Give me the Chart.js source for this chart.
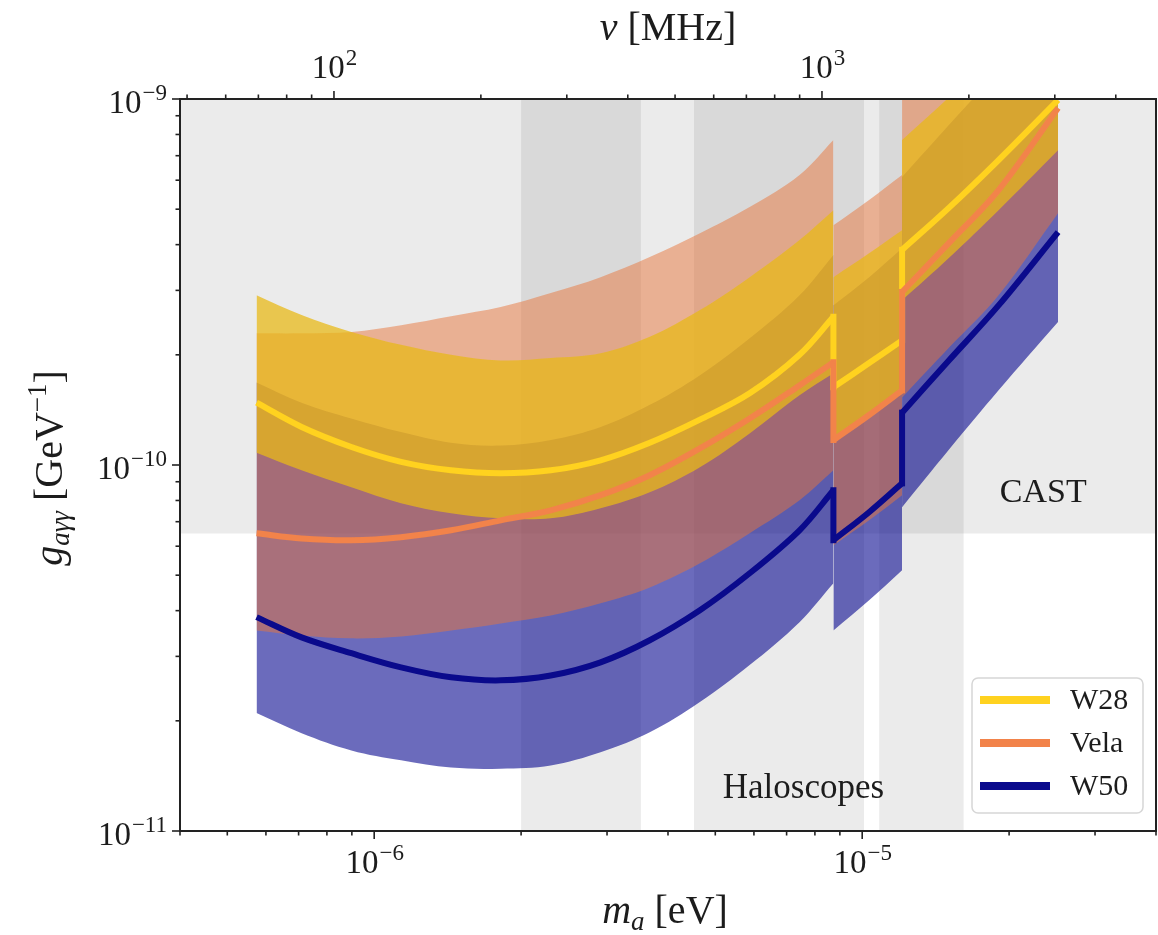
<!DOCTYPE html>
<html>
<head>
<meta charset="utf-8">
<script src="https://cdn.jsdelivr.net/npm/chart.js@4.4.1/dist/chart.umd.min.js"></script>
<style>
	body { margin: 0; background: #fff; }
	#wrap { width: 1158px; height: 935px; }
</style>
</head>
<body>
<div id="wrap"><canvas id="axionChart" width="1158" height="935"></canvas></div>
<script>
var SERIF = '"Liberation Serif", "DejaVu Serif", serif';
var INK = '#1c1c1c';

// axion mass [eV] along the three observed bands
var massA = [5.74e-7, 7.10e-7, 8.98e-7, 1.135e-6, 1.437e-6, 1.816e-6, 2.30e-6, 2.91e-6, 3.67e-6, 4.65e-6, 5.88e-6, 7.44e-6, 8.73e-6];
var massB = [8.73e-6, 1.033e-5, 1.207e-5];
var massC = [1.207e-5, 1.505e-5, 1.903e-5, 2.52e-5];

// g_agg [GeV^-1], values follow massA, then massB, then massC
var w28Line  = [1.48e-10, 1.27e-10, 1.12e-10, 1.02e-10, 9.67e-11, 9.49e-11, 9.67e-11, 1.03e-10, 1.15e-10, 1.33e-10, 1.57e-10, 2.00e-10, 2.54e-10,
                1.63e-10, 1.90e-10, 2.19e-10,
                3.87e-10, 5.04e-10, 6.81e-10, 9.94e-10];
var w28Upper = [2.91e-10, 2.57e-10, 2.31e-10, 2.13e-10, 2.00e-10, 1.93e-10, 1.96e-10, 2.02e-10, 2.24e-10, 2.65e-10, 3.26e-10, 4.12e-10, 4.97e-10,
                3.26e-10, 3.79e-10, 4.38e-10,
                7.73e-10, 1.01e-9, 1.36e-9, 1.99e-9];
var w28Lower = [1.08e-10, 9.67e-11, 8.69e-11, 7.86e-11, 7.38e-11, 7.15e-11, 7.15e-11, 7.62e-11, 8.42e-11, 9.86e-11, 1.22e-10, 1.55e-10, 1.78e-10,
                1.19e-10, 1.38e-10, 1.60e-10,
                2.82e-10, 3.68e-10, 4.97e-10, 7.25e-10];

var velaLine  = [6.51e-11, 6.30e-11, 6.23e-11, 6.35e-11, 6.63e-11, 7.06e-11, 7.52e-11, 8.27e-11, 9.38e-11, 1.11e-10, 1.34e-10, 1.65e-10, 1.91e-10,
                 1.17e-10, 1.37e-10, 1.60e-10,
                 2.97e-10, 4.04e-10, 5.64e-10, 9.45e-10];
var velaUpper = [2.29e-10, 2.29e-10, 2.31e-10, 2.41e-10, 2.55e-10, 2.70e-10, 2.95e-10, 3.26e-10, 3.70e-10, 4.30e-10, 5.07e-10, 6.20e-10, 7.73e-10,
                 4.52e-10, 5.30e-10, 6.20e-10,
                 1.15e-9, 1.56e-9, 2.18e-9, 3.66e-9];
var velaLower = [3.53e-11, 3.42e-11, 3.36e-11, 3.40e-11, 3.53e-11, 3.69e-11, 3.88e-11, 4.19e-11, 4.63e-11, 5.39e-11, 6.51e-11, 8.01e-11, 9.67e-11,
                 6.03e-11, 7.06e-11, 8.27e-11,
                 1.53e-10, 2.09e-10, 2.91e-10, 4.88e-10];

var w50Line  = [3.84e-11, 3.38e-11, 3.06e-11, 2.80e-11, 2.63e-11, 2.58e-11, 2.66e-11, 2.89e-11, 3.32e-11, 4.01e-11, 5.06e-11, 6.63e-11, 8.53e-11,
                6.23e-11, 7.43e-11, 8.91e-11,
                1.39e-10, 1.93e-10, 2.73e-10, 4.33e-10];
var w50Upper = [1.68e-10, 1.48e-10, 1.34e-10, 1.23e-10, 1.15e-10, 1.13e-10, 1.17e-10, 1.27e-10, 1.46e-10, 1.76e-10, 2.22e-10, 2.91e-10, 3.75e-10,
                2.73e-10, 3.26e-10, 3.91e-10,
                6.12e-10, 8.49e-10, 1.20e-9, 1.90e-9];
var w50Lower = [2.10e-11, 1.85e-11, 1.66e-11, 1.56e-11, 1.49e-11, 1.48e-11, 1.51e-11, 1.64e-11, 1.86e-11, 2.25e-11, 2.84e-11, 3.72e-11, 4.75e-11,
                3.53e-11, 4.27e-11, 5.16e-11,
                7.66e-11, 1.10e-10, 1.60e-10, 2.46e-10];

// excluded regions
var castLimit = 6.5e-11;
var haloFrom = [2.0e-6, 4.52e-6, 1.083e-5];
var haloTo   = [3.52e-6, 1.009e-5, 1.615e-5];

// axis ticks
var massMajorTicks = [1e-6, 1e-5];
var massMinorTicks = [4e-7, 5e-7, 6e-7, 7e-7, 8e-7, 9e-7, 2e-6, 3e-6, 4e-6, 5e-6, 6e-6, 7e-6, 8e-6, 9e-6, 2e-5, 3e-5, 4e-5];
var freqMajorTicks = [1e2, 1e3];
var freqMinorTicks = [50, 60, 70, 80, 90, 200, 300, 400, 500, 600, 700, 800, 900, 2000, 3000, 4000];
var gMajorTicks = [1e-11, 1e-10, 1e-9];
var gMinorTicks = [2e-11, 3e-11, 4e-11, 5e-11, 6e-11, 7e-11, 8e-11, 9e-11, 2e-10, 3e-10, 4e-10, 5e-10, 6e-10, 7e-10, 8e-10, 9e-10];

var MASS_MIN = 4e-7, MASS_MAX = 4e-5;
var MHZ_PER_EV = 1.209e8;   // nu = m / 2h
var SMOOTH = 0.35;

var SOURCES = [
	{ label: 'W28',  line: w28Line,  upper: w28Upper,  lower: w28Lower,  color: '#ffd21f', band: 'rgba(232,186,26,0.75)', bandOrder: 10, lineOrder: 3 },
	{ label: 'Vela', line: velaLine, upper: velaUpper, lower: velaLower, color: '#f2834a', band: 'rgba(232,118,60,0.5)',  bandOrder: 20, lineOrder: 2 },
	{ label: 'W50',  line: w50Line,  upper: w50Upper,  lower: w50Lower,  color: '#0a0a8c', band: 'rgba(0,0,139,0.58)',    bandOrder: 30, lineOrder: 1 }
];
var SEGMENTS = [massA, massB, massC];
var GREY = 'rgba(0,0,0,0.08)';

function toPoints(masses, values) {
	var pts = [];
	for (var i = 0; i < masses.length; i++) {
		pts.push({ x: masses[i], y: values[i] });
	}
	return pts;
}

function splitSeries(values) {
	var out = [];
	var start = 0;
	SEGMENTS.forEach(function(m) {
		out.push(toPoints(m, values.slice(start, start + m.length)));
		start += m.length;
	});
	return out;
}

var datasets = [];

function pushRegion(points, fill) {
	datasets.push({ data: points, borderWidth: 0, borderColor: 'transparent', pointRadius: 0,
		backgroundColor: GREY, fill: fill, order: 100 });
}

function pushBand(src) {
	var lo = splitSeries(src.lower);
	var hi = splitSeries(src.upper);
	for (var s = 0; s < lo.length; s++) {
		var idx = datasets.length;
		datasets.push({ data: lo[s], borderWidth: 0, borderColor: 'transparent', pointRadius: 0, fill: false,
			tension: SMOOTH, order: src.bandOrder });
		datasets.push({ data: hi[s], borderWidth: 0, borderColor: 'transparent', pointRadius: 0,
			tension: SMOOTH, backgroundColor: src.band, fill: { target: idx }, order: src.bandOrder });
	}
}

// smooth pieces per segment, plus the vertical steps between them
function pushLine(src) {
	var segs = splitSeries(src.line);
	segs.forEach(function(seg, s) {
		datasets.push({ label: src.label, data: seg, borderColor: src.color, borderWidth: 6, pointRadius: 0,
			fill: false, tension: SMOOTH, borderCapStyle: 'butt', order: src.lineOrder });
		if (s > 0) {
			var prev = segs[s - 1];
			datasets.push({ data: [prev[prev.length - 1], seg[0]], borderColor: src.color, borderWidth: 6, pointRadius: 0,
				fill: false, borderCapStyle: 'square', order: src.lineOrder });
		}
	});
}

pushRegion([{ x: MASS_MIN, y: castLimit }, { x: MASS_MAX, y: castLimit }], 'end');
haloFrom.forEach(function(lo, i) {
	pushRegion([{ x: lo, y: 1e-9 }, { x: haloTo[i], y: 1e-9 }], 'start');
});
SOURCES.forEach(pushBand);
SOURCES.forEach(pushLine);

function supText(exp) {
	return String(exp).replace('-', '\u2212');
}

function drawPower(ctx, exp, x, y, align) {
	var base = '10';
	var sup = supText(exp);
	ctx.font = '33px ' + SERIF;
	var wb = ctx.measureText(base).width;
	ctx.font = '23px ' + SERIF;
	var ws = ctx.measureText(sup).width;
	var left = x;
	if (align === 'center') left = x - (wb + ws) / 2;
	if (align === 'right') left = x - wb - ws;
	ctx.textAlign = 'left';
	ctx.textBaseline = 'alphabetic';
	ctx.font = '33px ' + SERIF;
	ctx.fillText(base, left, y);
	ctx.font = '23px ' + SERIF;
	ctx.fillText(sup, left + wb + 1, y - 13);
}

// parts: [text, font, dy]
function drawRich(ctx, parts, cx, baseline) {
	var total = 0;
	parts.forEach(function(p) {
		ctx.font = p[1];
		total += ctx.measureText(p[0]).width;
	});
	var x = cx - total / 2;
	ctx.textAlign = 'left';
	ctx.textBaseline = 'alphabetic';
	parts.forEach(function(p) {
		ctx.font = p[1];
		ctx.fillText(p[0], x, baseline + p[2]);
		x += ctx.measureText(p[0]).width;
	});
}

function tickMarks(ctx, scale, values, len, side, area) {
	values.forEach(function(v) {
		var p = scale.getPixelForValue(v);
		ctx.beginPath();
		if (side === 'bottom') { ctx.moveTo(p, area.bottom); ctx.lineTo(p, area.bottom + len); }
		if (side === 'top')    { ctx.moveTo(p, area.top);    ctx.lineTo(p, area.top - len); }
		if (side === 'left')   { ctx.moveTo(area.left, p);   ctx.lineTo(area.left - len, p); }
		ctx.stroke();
	});
}

var decorPlugin = {
	id: 'decor',
	afterDatasetsDraw: function(chart) {
		var ctx = chart.ctx;
		var sx = chart.scales.x, sy = chart.scales.y;
		ctx.save();
		ctx.fillStyle = INK;
		ctx.textAlign = 'center';
		ctx.textBaseline = 'alphabetic';
		ctx.font = '35px ' + SERIF;
		ctx.fillText('Haloscopes', sx.getPixelForValue(7.58e-6), sy.getPixelForValue(1.23e-11));
		ctx.font = '34px ' + SERIF;
		ctx.fillText('CAST', sx.getPixelForValue(2.35e-5), sy.getPixelForValue(7.9e-11));
		ctx.restore();
	},
	afterDraw: function(chart) {
		var ctx = chart.ctx;
		var a = chart.chartArea;
		var sx = chart.scales.x, sx2 = chart.scales.x2, sy = chart.scales.y;
		ctx.save();

		// frame
		ctx.strokeStyle = '#222';
		ctx.lineWidth = 2;
		ctx.strokeRect(a.left, a.top, a.right - a.left, a.bottom - a.top);

		// ticks
		ctx.lineWidth = 1.6;
		tickMarks(ctx, sx, massMajorTicks, 8, 'bottom', a);
		tickMarks(ctx, sx, massMinorTicks, 4.5, 'bottom', a);
		tickMarks(ctx, sx2, freqMajorTicks, 8, 'top', a);
		tickMarks(ctx, sx2, freqMinorTicks, 4.5, 'top', a);
		tickMarks(ctx, sy, gMajorTicks, 8, 'left', a);
		tickMarks(ctx, sy, gMinorTicks, 4.5, 'left', a);

		ctx.fillStyle = INK;
		massMajorTicks.forEach(function(v) {
			drawPower(ctx, Math.round(Math.log10(v)), sx.getPixelForValue(v), a.bottom + 42, 'center');
		});
		freqMajorTicks.forEach(function(v) {
			drawPower(ctx, Math.round(Math.log10(v)), sx2.getPixelForValue(v), a.top - 21, 'center');
		});
		gMajorTicks.forEach(function(v) {
			drawPower(ctx, Math.round(Math.log10(v)), a.left - 14, sy.getPixelForValue(v) + 14, 'right');
		});

		// axis titles
		var big = '40px ' + SERIF, bigI = 'italic 40px ' + SERIF;
		var small = '27px ' + SERIF, smallI = 'italic 27px ' + SERIF;
		drawRich(ctx, [['m', bigI, 0], ['a', smallI, 7], [' [eV]', big, 0]], 665, 923);
		drawRich(ctx, [['\u03bd', bigI, 0], [' [MHz]', big, 0]], 668, 40);
		ctx.save();
		ctx.translate(62, 468);
		ctx.rotate(-Math.PI / 2);
		drawRich(ctx, [['g', bigI, 0], ['a\u03b3\u03b3', smallI, 7], [' [GeV', big, 0], ['\u22121', small, -16], [']', big, 0]], 0, 0);
		ctx.restore();

		// legend
		var bw = 171, bh = 135;
		var bx = a.right - 13 - bw, by = a.bottom - 18 - bh;
		ctx.beginPath();
		ctx.roundRect(bx, by, bw, bh, 6);
		ctx.fillStyle = 'rgba(255,255,255,0.85)';
		ctx.fill();
		ctx.strokeStyle = '#d6d6d6';
		ctx.lineWidth = 1.5;
		ctx.stroke();
		SOURCES.forEach(function(src, i) {
			var ly = by + 22 + i * 43;
			ctx.beginPath();
			ctx.moveTo(bx + 8, ly);
			ctx.lineTo(bx + 78, ly);
			ctx.strokeStyle = src.color;
			ctx.lineWidth = 8;
			ctx.stroke();
			ctx.fillStyle = INK;
			ctx.font = '30px ' + SERIF;
			ctx.textAlign = 'left';
			ctx.textBaseline = 'middle';
			ctx.fillText(src.label, bx + 98, ly + 1);
		});
		ctx.restore();
	}
};

var hiddenAxis = {
	grid: { display: false },
	border: { display: false },
	ticks: { display: false }
};

var axionChart = new Chart(document.getElementById('axionChart'), {
	type: 'line',
	data: { datasets: datasets },
	options: {
		responsive: false,
		animation: false,
		devicePixelRatio: 1,
		events: [],
		layout: { padding: { top: 0, left: 0, bottom: 0, right: 2 } },
		plugins: {
			legend: { display: false },
			tooltip: { enabled: false }
		},
		scales: {
			x: Object.assign({
				type: 'logarithmic', position: 'bottom', min: MASS_MIN, max: MASS_MAX,
				afterFit: function(s) { s.height = 104; }
			}, hiddenAxis),
			x2: Object.assign({
				type: 'logarithmic', position: 'top', axis: 'x',
				min: MASS_MIN * MHZ_PER_EV, max: MASS_MAX * MHZ_PER_EV,
				afterFit: function(s) { s.height = 99; }
			}, hiddenAxis),
			y: Object.assign({
				type: 'logarithmic', position: 'left', min: 1e-11, max: 1e-9,
				afterFit: function(s) { s.width = 180; }
			}, hiddenAxis)
		}
	},
	plugins: [decorPlugin]
});
</script>
</body>
</html>
